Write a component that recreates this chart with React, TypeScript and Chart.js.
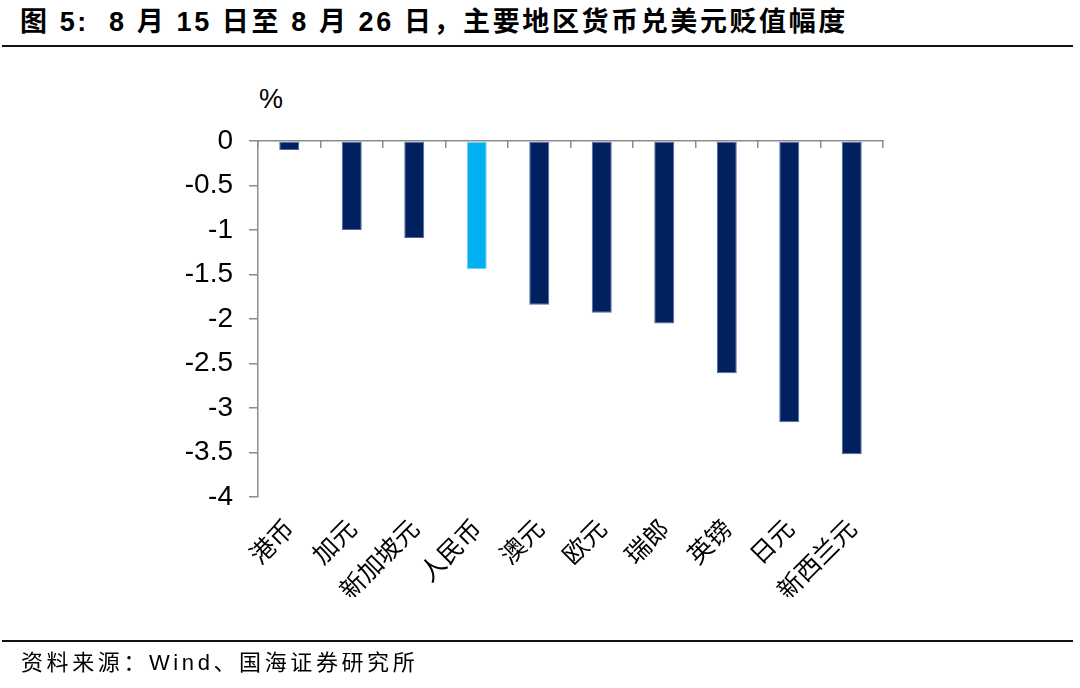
import React, { useEffect, useRef } from "react";
import { Chart, registerables } from "chart.js";

Chart.register(...registerables);

const categories = ["港币", "加元", "新加坡元", "人民币", "澳元", "欧元", "瑞郎", "英镑", "日元", "新西兰元"];
const values = [-0.1, -1.0, -1.09, -1.44, -1.84, -1.93, -2.05, -2.61, -3.16, -3.52];
const highlight = "人民币";
const yMin = -4;
const yMax = 0;
const yStep = 0.5;

const title = "图 5:  8 月 15 日至 8 月 26 日，主要地区货币兑美元贬值幅度";
const source = "资料来源：Wind、国海证券研究所";
const unit = "%";

const NAVY = "#002060";
const CYAN = "#00B0F0";
const AXIS = "#8c8c8c";

export default function App() {
  const ref = useRef<HTMLCanvasElement | null>(null);

  useEffect(() => {
    if (!ref.current) return;
    const chart = new Chart(ref.current, {
      type: "bar",
      data: {
        labels: categories,
        datasets: [
          {
            data: values,
            backgroundColor: categories.map((c) => (c === highlight ? CYAN : NAVY)),
            borderColor: categories.map((c) => (c === highlight ? "#7fd3f3" : "#4f6aa3")),
            borderWidth: 1,
            borderSkipped: false,
            categoryPercentage: 1,
            barPercentage: 0.32,
            xAxisID: "x",
          },
        ],
      },
      options: {
        animation: false,
        responsive: false,
        maintainAspectRatio: false,
        devicePixelRatio: 1,
        layout: { padding: { left: 0, top: 141, right: 197, bottom: 91 } },
        plugins: { legend: { display: false }, tooltip: { enabled: false }, title: { display: false } },
        scales: {
          x: {
            type: "category",
            position: "bottom",
            offset: true,
            grid: { display: false },
            border: { display: false },
            ticks: {
              autoSkip: false,
              maxRotation: 45,
              minRotation: 45,
              padding: 8,
              color: "#000",
              font: { family: "'Noto Sans CJK SC'", size: 25 },
            },
            afterFit: (s: any) => {
              s.height = 100;
            },
          },
          xTop: {
            type: "category",
            position: "top",
            labels: categories,
            offset: true,
            grid: {
              offset: true,
              drawOnChartArea: false,
              drawTicks: true,
              tickLength: -7,
              color: AXIS,
              lineWidth: 1.5,
            },
            border: { display: true, color: AXIS, width: 1.5 },
            ticks: { display: false },
            afterFit: (s: any) => {
              s.height = 0;
            },
          },
          y: {
            min: yMin,
            max: yMax,
            position: "left",
            grid: {
              drawOnChartArea: false,
              drawTicks: true,
              tickLength: 9,
              color: AXIS,
              lineWidth: 1.5,
            },
            border: { display: true, color: AXIS, width: 1.5 },
            ticks: {
              stepSize: yStep,
              padding: 16,
              color: "#000",
              font: { family: "'Liberation Sans', Arial", size: 28 },
              callback: (v: any) => String(Number(v)),
            },
            afterFit: (s: any) => {
              s.width = 258;
            },
          },
        },
      },
    });
    return () => chart.destroy();
  }, []);

  return (
    <div style={{ position: "fixed", left: 0, top: 0, width: 1080, height: 688, background: "#fff", overflow: "hidden" }}>
      <div
        style={{
          position: "absolute",
          left: 20,
          top: 5,
          fontFamily: "'Liberation Sans', 'Noto Sans CJK SC'",
          fontWeight: "bold",
          fontSize: 27,
          letterSpacing: 2.6,
          whiteSpace: "pre",
          color: "#000",
          lineHeight: "34px",
        }}
      >
        {title}
      </div>
      <div style={{ position: "absolute", left: 2, top: 45, width: 1071, height: 2, background: "#111" }} />
      <div
        style={{
          position: "absolute",
          left: 259,
          top: 83,
          fontFamily: "'Liberation Sans', Arial",
          fontSize: 27,
          color: "#000",
          lineHeight: "32px",
        }}
      >
        {unit}
      </div>
      <canvas ref={ref} width={1080} height={688} style={{ position: "absolute", left: 0, top: 0, width: 1080, height: 688 }} />
      <div style={{ position: "absolute", left: 2, top: 640, width: 1071, height: 2, background: "#111" }} />
      <div
        style={{
          position: "absolute",
          left: 21,
          top: 649,
          fontFamily: "'Liberation Sans', 'Noto Sans CJK SC'",
          fontSize: 22,
          letterSpacing: 3.6,
          color: "#000",
          lineHeight: "28px",
          whiteSpace: "pre",
        }}
      >
        {source}
      </div>
    </div>
  );
}
